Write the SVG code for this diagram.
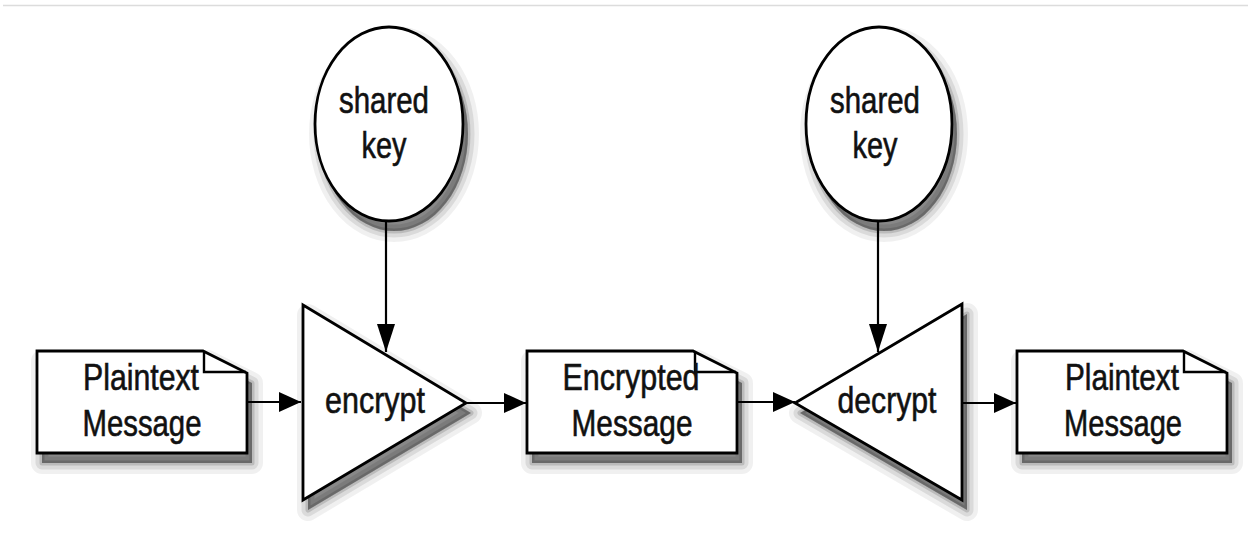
<svg xmlns="http://www.w3.org/2000/svg" width="1248" height="544" viewBox="0 0 1248 544">
<defs>
<marker id="ah" markerUnits="userSpaceOnUse" markerWidth="24" markerHeight="22" refX="22" refY="10" orient="auto">
<path d="M0,0 L22,10 L0,20 Z" fill="#000"/>
</marker>
<marker id="av" markerUnits="userSpaceOnUse" markerWidth="30" markerHeight="20" refX="28" refY="9" orient="auto">
<path d="M0,0 L28,9 L0,18 Z" fill="#000"/>
</marker>
<ellipse id="s-key1" cx="389" cy="124" rx="74" ry="97"/>
<ellipse id="s-key2" cx="879" cy="124" rx="73" ry="97"/>
<path id="s-doc1" d="M37,351 H203 L247,373 V453 H37 Z"/>
<path id="s-enc" d="M303,305 L466,403 L303,500 Z"/>
<path id="s-doc2" d="M527,351 H693 L737,373 V453 H527 Z"/>
<path id="s-dec" d="M962,304 L795,403 L962,500 Z"/>
<path id="s-doc3" d="M1017,351 H1183 L1227,373 V453 H1017 Z"/>
</defs>
<style>
.shape{fill:#fff;stroke:#000;stroke-width:2.8;stroke-linejoin:miter}
.sh1{fill:#000;fill-opacity:0.06;stroke:#000;stroke-opacity:0.06;stroke-width:22;stroke-linejoin:round}
.sh2{fill:#000;fill-opacity:0.09;stroke:#000;stroke-opacity:0.09;stroke-width:13;stroke-linejoin:round}
.sh3{fill:#000;fill-opacity:0.14;stroke:#000;stroke-opacity:0.14;stroke-width:5;stroke-linejoin:round}
.sh4{fill:#000;fill-opacity:0.22;stroke:none}
.fold{fill:none;stroke:#000;stroke-width:2.4}
.lbl{font-family:"Liberation Sans",Arial,sans-serif;font-size:37px;fill:#111;stroke:#111;stroke-width:0.6;text-anchor:middle}
.conn{fill:none;stroke:#000;stroke-width:2.2}
</style>
<rect width="1248" height="544" fill="#fff"/>
<line x1="3" y1="5.5" x2="1248" y2="5.5" stroke="#dcdcdc" stroke-width="1.5"/>

<g id="shadows" transform="translate(5,10)">
<use href="#s-key1" class="sh1"/><use href="#s-key1" class="sh2"/><use href="#s-key1" class="sh3"/><use href="#s-key1" class="sh4"/>
<use href="#s-key2" class="sh1"/><use href="#s-key2" class="sh2"/><use href="#s-key2" class="sh3"/><use href="#s-key2" class="sh4"/>
<use href="#s-doc1" class="sh1"/><use href="#s-doc1" class="sh2"/><use href="#s-doc1" class="sh3"/><use href="#s-doc1" class="sh4"/>
<use href="#s-enc" class="sh1"/><use href="#s-enc" class="sh2"/><use href="#s-enc" class="sh3"/><use href="#s-enc" class="sh4"/>
<use href="#s-doc2" class="sh1"/><use href="#s-doc2" class="sh2"/><use href="#s-doc2" class="sh3"/><use href="#s-doc2" class="sh4"/>
<use href="#s-dec" class="sh1"/><use href="#s-dec" class="sh2"/><use href="#s-dec" class="sh3"/><use href="#s-dec" class="sh4"/>
<use href="#s-doc3" class="sh1"/><use href="#s-doc3" class="sh2"/><use href="#s-doc3" class="sh3"/><use href="#s-doc3" class="sh4"/>
</g>

<g id="connectors">
<path class="conn" d="M247,402 H301" marker-end="url(#ah)"/>
<path class="conn" d="M386,222 V352" marker-end="url(#av)"/>
<path class="conn" d="M466,403 H526" marker-end="url(#ah)"/>
<path class="conn" d="M737,402 H795" marker-end="url(#ah)"/>
<path class="conn" d="M878,222 V352" marker-end="url(#av)"/>
<path class="conn" d="M962,403 H1016" marker-end="url(#ah)"/>
</g>

<g id="key1">
<use href="#s-key1" class="shape"/>
<text class="lbl" x="384" y="113" textLength="90" lengthAdjust="spacingAndGlyphs">shared</text>
<text class="lbl" x="384" y="158" textLength="45" lengthAdjust="spacingAndGlyphs">key</text>
</g>

<g id="key2">
<use href="#s-key2" class="shape"/>
<text class="lbl" x="875" y="113" textLength="90" lengthAdjust="spacingAndGlyphs">shared</text>
<text class="lbl" x="875" y="158" textLength="45" lengthAdjust="spacingAndGlyphs">key</text>
</g>

<g id="plaintext1">
<use href="#s-doc1" class="shape"/>
<path class="fold" d="M204,352 V372 H246"/>
<text class="lbl" x="141" y="390" textLength="116" lengthAdjust="spacingAndGlyphs">Plaintext</text>
<text class="lbl" x="142" y="436" textLength="119" lengthAdjust="spacingAndGlyphs">Message</text>
</g>

<g id="encrypt">
<use href="#s-enc" class="shape"/>
<text class="lbl" x="375" y="413" textLength="100" lengthAdjust="spacingAndGlyphs">encrypt</text>
</g>

<g id="encrypted">
<use href="#s-doc2" class="shape"/>
<path class="fold" d="M695,352 V372 H736"/>
<text class="lbl" x="631" y="390" textLength="137" lengthAdjust="spacingAndGlyphs">Encrypted</text>
<text class="lbl" x="632" y="436" textLength="121" lengthAdjust="spacingAndGlyphs">Message</text>
</g>

<g id="decrypt">
<use href="#s-dec" class="shape"/>
<text class="lbl" x="887" y="413" textLength="99" lengthAdjust="spacingAndGlyphs">decrypt</text>
</g>

<g id="plaintext2">
<use href="#s-doc3" class="shape"/>
<path class="fold" d="M1184,352 V372 H1226"/>
<text class="lbl" x="1122" y="390" textLength="114" lengthAdjust="spacingAndGlyphs">Plaintext</text>
<text class="lbl" x="1123" y="436" textLength="118" lengthAdjust="spacingAndGlyphs">Message</text>
</g>
</svg>
